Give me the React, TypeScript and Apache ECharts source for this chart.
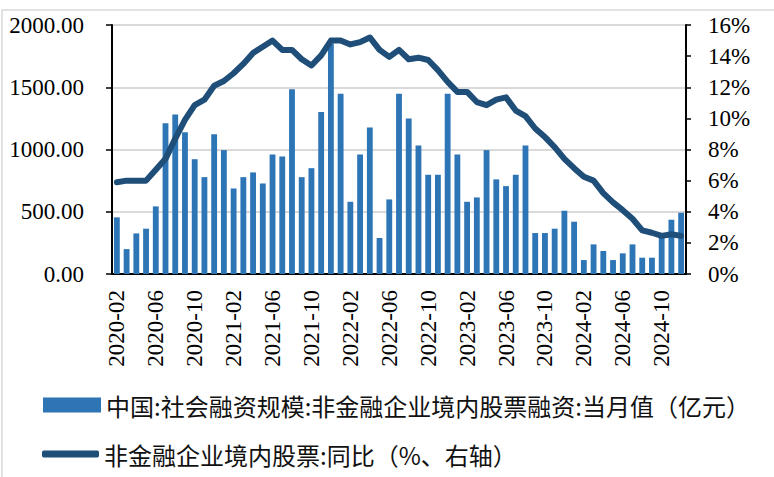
import React, { useEffect, useRef } from "react";
import * as echarts from "echarts";

const categories: string[] = [
  "2020-02", "2020-03", "2020-04", "2020-05", "2020-06", "2020-07", "2020-08", "2020-09", "2020-10", "2020-11", "2020-12",
  "2021-01", "2021-02", "2021-03", "2021-04", "2021-05", "2021-06", "2021-07", "2021-08", "2021-09", "2021-10", "2021-11", "2021-12",
  "2022-01", "2022-02", "2022-03", "2022-04", "2022-05", "2022-06", "2022-07", "2022-08", "2022-09", "2022-10", "2022-11", "2022-12",
  "2023-01", "2023-02", "2023-03", "2023-04", "2023-05", "2023-06", "2023-07", "2023-08", "2023-09", "2023-10", "2023-11", "2023-12",
  "2024-01", "2024-02", "2024-03", "2024-04", "2024-05", "2024-06", "2024-07", "2024-08", "2024-09", "2024-10", "2024-11", "2024-12",
];

const equityMonthly: number[] = [
  455, 200, 326, 364, 543, 1211, 1281, 1139, 922, 778, 1123,
  995, 687, 778, 816, 727, 960, 944, 1484, 778, 850, 1302, 1851,
  1447, 580, 960, 1177, 289, 599, 1447, 1249, 1032, 797, 797, 1447,
  960, 580, 615, 995, 760, 706, 797, 1032, 329, 329, 364, 508,
  420, 112, 238, 185, 112, 166, 238, 131, 131, 294, 436, 492,
];

const equityYoY: number[] = [
  5.9, 6.0, 6.0, 6.0, 6.7, 7.4, 8.7, 9.9, 10.85, 11.2, 12.1,
  12.4, 12.9, 13.5, 14.2, 14.6, 15.0, 14.4, 14.4, 13.8, 13.4, 14.05, 15.0,
  15.0, 14.75, 14.9, 15.2, 14.4, 13.95, 14.4, 13.8, 13.9, 13.75, 13.1, 12.35,
  11.7, 11.7, 11.05, 10.85, 11.2, 11.35, 10.5, 10.15, 9.35, 8.8, 8.15, 7.4,
  6.8, 6.25, 6.0, 5.2, 4.6, 4.1, 3.55, 2.8, 2.65, 2.45, 2.55, 2.45,
];

const leftTicks = { min: 0, max: 2000, interval: 500 };
const rightTicks = { min: 0, max: 16, interval: 2 };

const barName = "中国:社会融资规模:非金融企业境内股票融资:当月值（亿元）";
const lineName = "非金融企业境内股票:同比（%、右轴）";

const serif = "serif";
const cjk = "Noto Sans CJK SC";

export default function App() {
  const ref = useRef<HTMLDivElement>(null);
  useEffect(() => {
    if (!ref.current) return;
    const chart = echarts.init(ref.current, null, { renderer: "svg" });
    chart.setOption({
      animation: false,
      backgroundColor: "#ffffff",
      graphic: [
        {
          type: "rect",
          shape: { x: 2, y: 10, width: 790, height: 490 },
          style: { fill: "none", stroke: "#d9d9d9", lineWidth: 1.5 },
          silent: true,
        },
      ],
      grid: { left: 112, right: 88, top: 25, bottom: 203, containLabel: false },
      legend: [
        {
          data: [{ name: barName, icon: "rect" }],
          left: 43,
          top: 393,
          padding: 0,
          itemWidth: 58,
          itemHeight: 15,
          textStyle: { fontFamily: cjk, fontSize: 24, color: "#111", lineHeight: 24 },
          selectedMode: false,
        },
        {
          data: [{ name: lineName, icon: "roundRect" }],
          left: 42,
          top: 442,
          padding: 0,
          itemWidth: 57,
          itemHeight: 7,
          textStyle: { fontFamily: cjk, fontSize: 24, color: "#111", lineHeight: 24 },
          selectedMode: false,
        },
      ],
      xAxis: {
        type: "category",
        data: categories,
        boundaryGap: true,
        axisLine: { lineStyle: { color: "#000", width: 2 } },
        axisTick: { interval: 3, length: 8, lineStyle: { color: "#000", width: 1.5 } },
        axisLabel: {
          interval: 3,
          rotate: 90,
          margin: 16,
          fontFamily: serif,
          fontSize: 23,
          color: "#000",
        },
      },
      yAxis: [
        {
          type: "value",
          min: leftTicks.min,
          max: leftTicks.max,
          interval: leftTicks.interval,
          axisLine: { show: true, lineStyle: { color: "#000", width: 2 } },
          axisTick: { show: true, length: 6, lineStyle: { color: "#000", width: 1.5 } },
          axisLabel: {
            margin: 28,
            fontFamily: serif,
            fontSize: 23,
            color: "#000",
            formatter: (v: number) => v.toFixed(2),
          },
          splitLine: { show: true, lineStyle: { color: "#d9d9d9", width: 2 } },
        },
        {
          type: "value",
          position: "right",
          min: rightTicks.min,
          max: rightTicks.max,
          interval: rightTicks.interval,
          axisLine: { show: true, lineStyle: { color: "#000", width: 2 } },
          axisTick: { show: true, length: 5, lineStyle: { color: "#000", width: 1.5 } },
          axisLabel: {
            margin: 22,
            fontFamily: serif,
            fontSize: 23,
            color: "#000",
            formatter: (v: number) => v + "%",
          },
          splitLine: { show: false },
        },
      ],
      series: [
        {
          name: barName,
          type: "bar",
          data: equityMonthly,
          yAxisIndex: 0,
          barWidth: "60%",
          itemStyle: { color: "#2E75B6" },
        },
        {
          name: lineName,
          type: "line",
          data: equityYoY,
          yAxisIndex: 1,
          showSymbol: false,
          symbol: "none",
          itemStyle: { color: "#1F4E79" },
          lineStyle: { color: "#1F4E79", width: 6, cap: "round", join: "round" },
        },
      ],
    });
    return () => chart.dispose();
  }, []);
  return (
    <div
      ref={ref}
      style={{ position: "fixed", left: 0, top: 0, width: 774, height: 477, background: "#fff" }}
    />
  );
}
